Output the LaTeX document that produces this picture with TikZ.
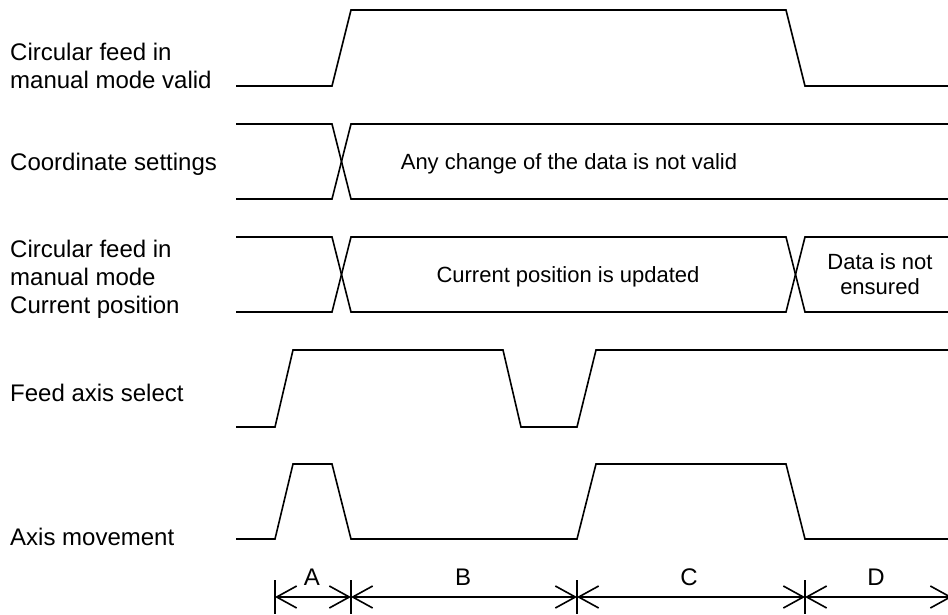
\documentclass[tikz,border=0pt]{standalone}
\usepackage{fontspec}
\setmainfont{Liberation Sans}
\usetikzlibrary{arrows.meta}
\tikzset{
  wave/.style={line width=1.6pt},
  siglabel/.style={anchor=base west,inner sep=0pt,align=left,font=\fontsize{24}{28}\selectfont},
  inlabel/.style={anchor=base,inner sep=0pt,align=center,font=\fontsize{22}{25}\selectfont},
  dimline/.style={line width=1.6pt,{Straight Barb[length=20pt,width=22pt]}-{Straight Barb[length=20pt,width=22pt]}},
}
\begin{document}
\begin{tikzpicture}[x=1pt,y=-1pt]
        \useasboundingbox (0,0) rectangle (948,614);
        \def\xl{236} \def\xr{948}

        % signal names
        \node[siglabel] (circvalid) at (10,88) {Circular feed in\\manual mode valid};
        \node[siglabel] (coord) at (10,170) {Coordinate settings};
        \node[siglabel] (curpos) at (10,313) {Circular feed in\\manual mode\\Current position};
        \node[siglabel] (feedsel) at (10,401) {Feed axis select};
        \node[siglabel] (axismove) at (10,545) {Axis movement};

        % circular feed valid
        \draw[wave] (\xl,86) -- (332,86) -- (351,10) -- (786,10) -- (805,86) -- (\xr,86);

        % coordinate settings
        \draw[wave] (\xl,124) -- (332,124) -- (351,199) -- (\xr,199);
        \draw[wave] (\xl,199) -- (332,199) -- (351,124) -- (\xr,124);
        \node[inlabel] (nochange) at (569,169) {Any change of the data is not valid};

        % current position
        \draw[wave] (\xl,237) -- (332,237) -- (351,312) -- (786,312) -- (805,237) -- (\xr,237);
        \draw[wave] (\xl,312) -- (332,312) -- (351,237) -- (786,237) -- (805,312) -- (\xr,312);
        \node[inlabel] (updated) at (568,282) {Current position is updated};
        \node[inlabel] (notensured) at (880,294) {Data is not\\ensured};

        % feed axis select
        \draw[wave] (\xl,427) -- (275,427) -- (293,350) -- (503,350) -- (521,427) -- (577,427) -- (596,350) -- (\xr,350);

        % axis movement
        \draw[wave] (\xl,539) -- (275,539) -- (293,464) -- (332,464) -- (351,539) -- (577,539) -- (596,464) -- (786,464) -- (805,539) -- (\xr,539);

        % periods
        \coordinate (tA) at (275,597);
        \coordinate (tB) at (351,597);
        \coordinate (tC) at (577,597);
        \coordinate (tD) at (805,597);
        \coordinate (tE) at (952,597);
        \foreach \t in {tA,tB,tC,tD}
          \draw[wave] (\t) ++(0,-17) -- ++(0,34);
        \draw[dimline] (tA) -- (tB);
        \draw[dimline] (tB) -- (tC);
        \draw[dimline] (tC) -- (tD);
        \draw[dimline] (tD) -- (tE);
        \node[inlabel,font=\fontsize{24}{28}\selectfont] (perA) at (312,585) {A};
        \node[inlabel,font=\fontsize{24}{28}\selectfont] (perB) at (463,585) {B};
        \node[inlabel,font=\fontsize{24}{28}\selectfont] (perC) at (689,585) {C};
        \node[inlabel,font=\fontsize{24}{28}\selectfont] (perD) at (876,585) {D};
      \end{tikzpicture}
\end{document}
